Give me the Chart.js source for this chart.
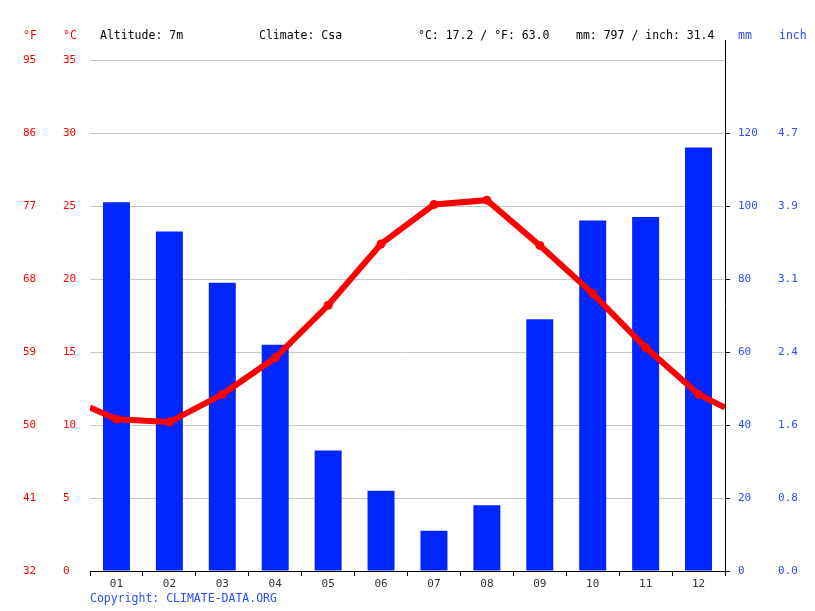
<!DOCTYPE html>
<html>
<head>
<meta charset="utf-8">
<script src="https://cdn.jsdelivr.net/npm/chart.js@4/dist/chart.umd.min.js"></script>
<style>
  html,body{margin:0;padding:0;background:#fff;}
  #wrap{width:815px;height:611px;position:relative;}
</style>
</head>
<body>
<div id="wrap"><canvas id="myChart" width="815" height="611"></canvas></div>
<script>
// chart data
const months = ['01','02','03','04','05','06','07','08','09','10','11','12'];
const rainMm = [101, 93, 79, 62, 33, 22, 11, 18, 69, 96, 97, 116];
const tempC = [10.4, 10.2, 12.1, 14.6, 18.2, 22.4, 25.1, 25.4, 22.3, 19.0, 15.3, 12.1];
const tempEdge = 11.2; // line value where it meets the plot edges
const fLabels = ['32','41','50','59','68','77','86','95'];
const mmLabels = ['0','20','40','60','80','100','120',''];
const inchLabels = ['0.0','0.8','1.6','2.4','3.1','3.9','4.7',''];

const RED = '#ff0000';
const BLUE = '#0026ff';
const TXT_BLUE = '#2a4dff';
const MONO = '"DejaVu Sans Mono", monospace';

// line points: edge, months at centres, edge
let linePts = [{x:0, y:tempEdge}];
tempC.forEach((t,i) => linePts.push({x:i+0.5, y:t}));
linePts.push({x:12, y:tempEdge});

// header texts + right axis line
const extras = {
  id:'extras',
  afterDraw(chart){
    const c = chart.ctx, a = chart.chartArea;
    c.save();
    c.strokeStyle = '#000';
    c.lineWidth = 1;
    c.beginPath();
    c.moveTo(a.right+0.5, 40);
    c.lineTo(a.right+0.5, a.bottom);
    c.stroke();
    c.font = '11.5px ' + MONO;
    c.textBaseline = 'middle';
    c.fillStyle = RED;
    c.fillText('°F', 23, 36);
    c.fillText('°C', 63, 36);
    c.fillStyle = '#000';
    c.fillText('Altitude: 7m', 100, 36);
    c.fillText('Climate: Csa', 259, 36);
    c.fillText('°C: 17.2 / °F: 63.0', 418, 36);
    c.fillText('mm: 797 / inch: 31.4', 576, 36);
    c.fillStyle = TXT_BLUE;
    c.fillText('mm', 738, 36);
    c.fillText('inch', 779, 36);
    c.fillText('Copyright: CLIMATE-DATA.ORG', 90, 599);
    c.restore();
  }
};

const tickFont = {family: MONO, size: 11};

new Chart(document.getElementById('myChart').getContext('2d'), {
  type: 'line',
  data: {
    labels: months,
    datasets: [
      {
        type: 'line',
        data: linePts,
        xAxisID: 'x2',
        yAxisID: 'y',
        borderColor: RED,
        backgroundColor: RED,
        borderWidth: 6,
        pointRadius: ctx => (ctx.dataIndex === 0 || ctx.dataIndex === linePts.length-1) ? 0 : 4.5,
        pointBackgroundColor: RED,
        pointBorderWidth: 0,
        tension: 0,
        order: 0
      },
      {
        type: 'bar',
        data: rainMm,
        xAxisID: 'x',
        yAxisID: 'mm',
        backgroundColor: BLUE,
        grouped: false,
        barPercentage: 0.51,
        categoryPercentage: 1,
        order: 1
      }
    ]
  },
  options: {
    responsive: false,
    animation: false,
    events: [],
    layout: {padding: {left: 23, top: 60, right: 0, bottom: 0}},
    plugins: {legend: {display: false}, tooltip: {enabled: false}},
    scales: {
      x: {
        type: 'category',
        position: 'bottom',
        offset: true,
        grid: {offset: true, drawOnChartArea: false, drawTicks: true, tickLength: 5, color: '#000'},
        border: {display: true, color: '#000'},
        ticks: {color: '#333', font: tickFont, padding: 2, maxRotation: 0},
        afterFit: s => { s.height = 40; }
      },
      x2: {
        type: 'linear',
        display: false,
        offset: false,
        min: 0,
        max: 12
      },
      y: {
        position: 'left',
        weight: 0,
        min: 0, max: 35,
        ticks: {stepSize: 5, color: RED, font: tickFont, crossAlign: 'far', padding: 0},
        grid: {color: '#c8c8c8', drawTicks: false},
        border: {display: false},
        afterFit: s => { s.width = 27; }
      },
      yF: {
        position: 'left',
        weight: 1,
        min: 32, max: 95,
        ticks: {stepSize: 9, color: RED, font: tickFont, crossAlign: 'far', padding: 0,
          callback: (v, i) => fLabels[i]},
        grid: {display: false, drawTicks: false},
        border: {display: false},
        afterFit: s => { s.width = 40; }
      },
      mm: {
        position: 'right',
        weight: 0,
        min: 0, max: 140,
        ticks: {stepSize: 20, color: TXT_BLUE, font: tickFont, padding: 8,
          callback: (v, i) => mmLabels[i]},
        grid: {drawOnChartArea: false, drawTicks: true, tickLength: 5,
          color: c => c.index === mmLabels.length-1 ? 'rgba(0,0,0,0)' : '#000'},
        border: {display: false},
        afterFit: s => { s.width = 45; }
      },
      inch: {
        position: 'right',
        weight: 1,
        min: 0, max: 140,
        ticks: {stepSize: 20, color: TXT_BLUE, font: tickFont, padding: 8,
          callback: (v, i) => inchLabels[i]},
        grid: {display: false, drawTicks: false},
        border: {display: false},
        afterFit: s => { s.width = 45; }
      }
    }
  },
  plugins: [extras]
});
</script>
</body>
</html>
